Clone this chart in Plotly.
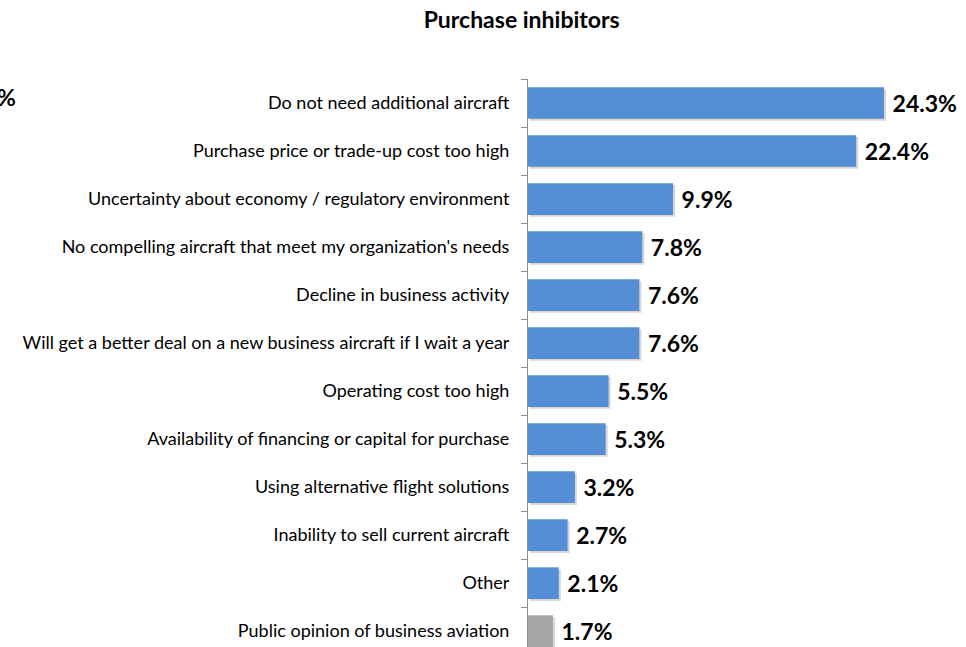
import plotly.graph_objects as go

# --- данные ---
categories = [
    "Do not need additional aircraft",
    "Purchase price or trade-up cost too high",
    "Uncertainty about economy / regulatory environment",
    "No compelling aircraft that meet my organization's needs",
    "Decline in business activity",
    "Will get a better deal on a new business aircraft if I wait a year",
    "Operating cost too high",
    "Availability of financing or capital for purchase",
    "Using alternative flight solutions",
    "Inability to sell current aircraft",
    "Other",
    "Public opinion of business aviation",
]
values = [24.3, 22.4, 9.9, 7.8, 7.6, 7.6, 5.5, 5.3, 3.2, 2.7, 2.1, 1.7]
labels = [f"{v:.1f}%" for v in values]

BLUE = "rgb(85,142,213)"
GRAY = "rgb(166,166,166)"
colors = [BLUE] * (len(values) - 1) + [GRAY]

fig = go.Figure()

# лёгкая тень под столбцами
fig.add_trace(go.Bar(
    y=categories, x=values, orientation="h", base=0.14,
    width=0.66, offset=-0.29,
    marker=dict(color="rgba(0,0,0,0.16)", line=dict(width=0)),
    hoverinfo="skip", showlegend=False,
))

fig.add_trace(go.Bar(
    y=categories, x=values, orientation="h",
    width=0.66, offset=-0.33,
    marker=dict(color=colors, line=dict(width=0)),
    text=labels, texttemplate="\u00a0%{text}", textposition="outside",
    textfont=dict(family="Lato", size=23, color="black", weight="bold"),
    cliponaxis=False, showlegend=False,
))

fig.update_layout(
    width=966, height=647,
    margin=dict(l=528, r=0, t=79, b=0),
    paper_bgcolor="white", plot_bgcolor="white",
    barmode="overlay",
    font=dict(family="Lato", size=18, color="black"),
    title=dict(text="<b>Purchase inhibitors</b>", x=0.540, xanchor="center",
               y=1 - 20 / 647, yanchor="middle", yref="container",
               font=dict(family="Lato", size=23, color="black")),
    xaxis=dict(range=[0, 29.9], showgrid=False, zeroline=False,
               showticklabels=False, showline=False, ticks=""),
    yaxis=dict(type="category", categoryorder="array", categoryarray=categories,
               range=[11.33, -0.5], showgrid=False, zeroline=False,
               showline=True, linecolor="#8c8c8c", linewidth=1,
               ticks="outside", tickson="boundaries", ticklen=6, tickcolor="#8c8c8c",
               ticklabelstandoff=14,
               tickfont=dict(family="Lato", size=18, color="black")),
)

# "%" у левого края, как в оригинале
fig.add_annotation(text="<b>%</b>", xref="paper", yref="paper", x=0, y=1 - (97 - 79) / 568,
                   xanchor="right", yanchor="middle", xshift=-(528 - 18), showarrow=False,
                   font=dict(family="Lato", size=23, color="black"))

# убираем стандартный отступ body, чтобы график начинался с (0, 0)
fig.write_html("out.html", config={"displayModeBar": False},
               post_script="document.body.style.margin='0';")
